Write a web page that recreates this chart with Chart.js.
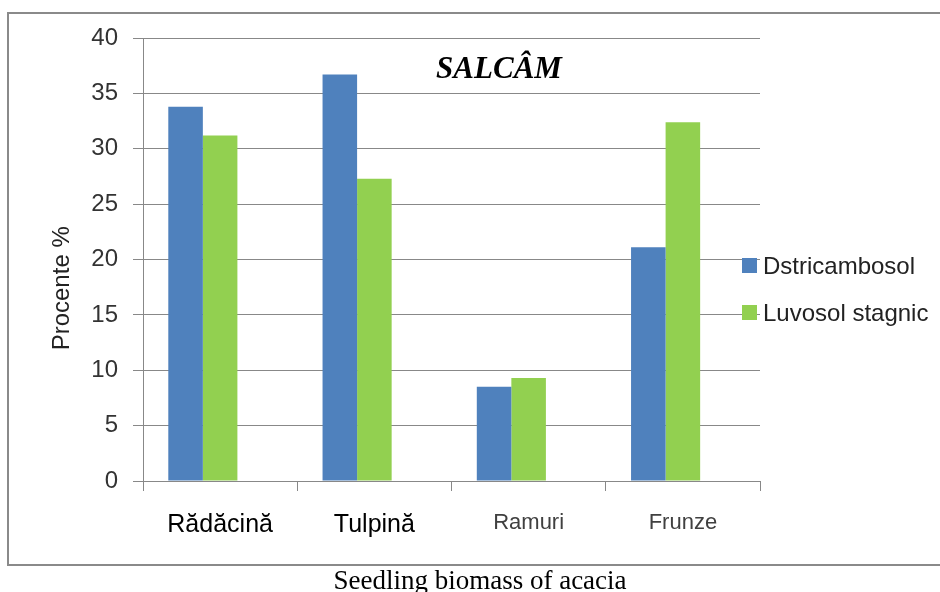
<!DOCTYPE html>
<html>
<head>
<meta charset="utf-8">
<script src="https://cdn.jsdelivr.net/npm/chart.js@4/dist/chart.umd.min.js"></script>
<style>
  html, body { margin: 0; padding: 0; width: 940px; height: 592px; overflow: hidden; background: #fff; }
  #frame { position: absolute; left: 7px; top: 12px; width: 980px; height: 550px; border: 2px solid #8a8a8a; box-sizing: content-box; }
  #wrap { position: absolute; left: 0; top: 0; width: 940px; height: 592px; }
  #legend { position: absolute; left: 742px; top: 254px; font-family: "Liberation Sans", Arial, sans-serif; font-size: 24px; color: #222; }
  .item { position: relative; height: 47px; }
  .sw { position: absolute; left: 0; top: 4px; width: 15px; height: 15px; }
  .lt { position: absolute; left: 21px; top: 0px; line-height: 24px; white-space: nowrap; }
  #caption { position: absolute; left: 20px; width: 920px; top: 565px; text-align: center; font-family: "Liberation Serif", "Times New Roman", serif; font-size: 27px; color: #000; line-height: 30px; }
</style>
</head>
<body>
<div id="frame"></div>
<div id="wrap"><canvas id="c" width="940" height="592"></canvas></div>
<div id="legend"></div>
<div id="caption">Seedling biomass of acacia</div>
<script>
const categories = ["Rădăcină", "Tulpină", "Ramuri", "Frunze"];
const seriesNames = ["Dstricambosol", "Luvosol stagnic"];
const dstricambosol = [33.8, 36.7, 8.5, 21.1];
const luvosolStagnic = [31.2, 27.3, 9.3, 32.4];
// the original chart reserves a slot for a third, empty series
const emptySeries = [null, null, null, null];
const seriesColors = ["#4F81BD", "#92D050"];
const chartTitle = "SALCÂM";
const yAxisTitle = "Procente %";

const gridColor = "#888888";

const textPlugin = {
  id: "extraText",
  afterDraw(chart) {
    const ctx = chart.ctx;
    const a = chart.chartArea;
    ctx.save();
    ctx.font = "italic bold 31px 'Liberation Serif', 'Times New Roman', serif";
    ctx.fillStyle = "#000";
    ctx.textAlign = "center";
    ctx.textBaseline = "alphabetic";
    ctx.fillText(chartTitle, a.left + (a.right - a.left) * 0.577, a.top + 40);
    ctx.restore();

    ctx.save();
    ctx.font = "24px 'Liberation Sans', Arial, sans-serif";
    ctx.fillStyle = "#222";
    ctx.textAlign = "center";
    ctx.textBaseline = "middle";
    ctx.translate(a.left - 81, a.top + (a.bottom - a.top) * 0.565);
    ctx.rotate(-Math.PI / 2);
    ctx.fillText(yAxisTitle, 0, 0);
    ctx.restore();
  }
};

const chart = new Chart(document.getElementById("c"), {
  type: "bar",
  data: {
    labels: categories,
    datasets: [
      { label: seriesNames[0], data: dstricambosol, backgroundColor: seriesColors[0], borderWidth: 0 },
      { label: seriesNames[1], data: luvosolStagnic, backgroundColor: seriesColors[1], borderWidth: 0 },
      { label: "", data: emptySeries, backgroundColor: "rgba(0,0,0,0)", borderWidth: 0 }
    ]
  },
  options: {
    responsive: false,
    animation: false,
    devicePixelRatio: 1,
    layout: { padding: { left: 0, top: 38, right: 180, bottom: 0 } },
    datasets: { bar: { categoryPercentage: 0.672, barPercentage: 1.0 } },
    plugins: {
      legend: { display: false },
      title: { display: false },
      tooltip: { enabled: false }
    },
    scales: {
      x: {
        grid: { display: true, drawOnChartArea: false, drawTicks: true, tickLength: 10, offset: true, color: gridColor, lineWidth: 1 },
        border: { display: true, color: gridColor, width: 1 },
        ticks: {
          padding: 19,
          color: (ctx) => ctx.index < 2 ? "#000000" : "#404040",
          font: (ctx) => ctx.index < 2
            ? { family: "'Liberation Sans', Arial, sans-serif", size: 25, weight: "normal" }
            : { family: "'Liberation Sans', Arial, sans-serif", size: 22, weight: "normal" }
        },
        afterFit(scale) { scale.height = 111; }
      },
      y: {
        min: 0, max: 40,
        ticks: {
          stepSize: 5, padding: 15, color: "#333333",
          font: { family: "'Liberation Sans', Arial, sans-serif", size: 24 }
        },
        grid: { color: gridColor, lineWidth: 1, tickLength: 10, drawTicks: true },
        border: { display: true, color: gridColor, width: 1 },
        afterFit(scale) { scale.width = 143; }
      }
    }
  },
  plugins: [textPlugin]
});

// Legend built from the series names and colours
const legend = document.getElementById("legend");
seriesNames.forEach((name, i) => {
  const item = document.createElement("div");
  item.className = "item";
  const sw = document.createElement("div");
  sw.className = "sw";
  sw.style.background = seriesColors[i];
  const lt = document.createElement("div");
  lt.className = "lt";
  lt.textContent = name;
  item.appendChild(sw);
  item.appendChild(lt);
  legend.appendChild(item);
});
</script>
</body>
</html>
